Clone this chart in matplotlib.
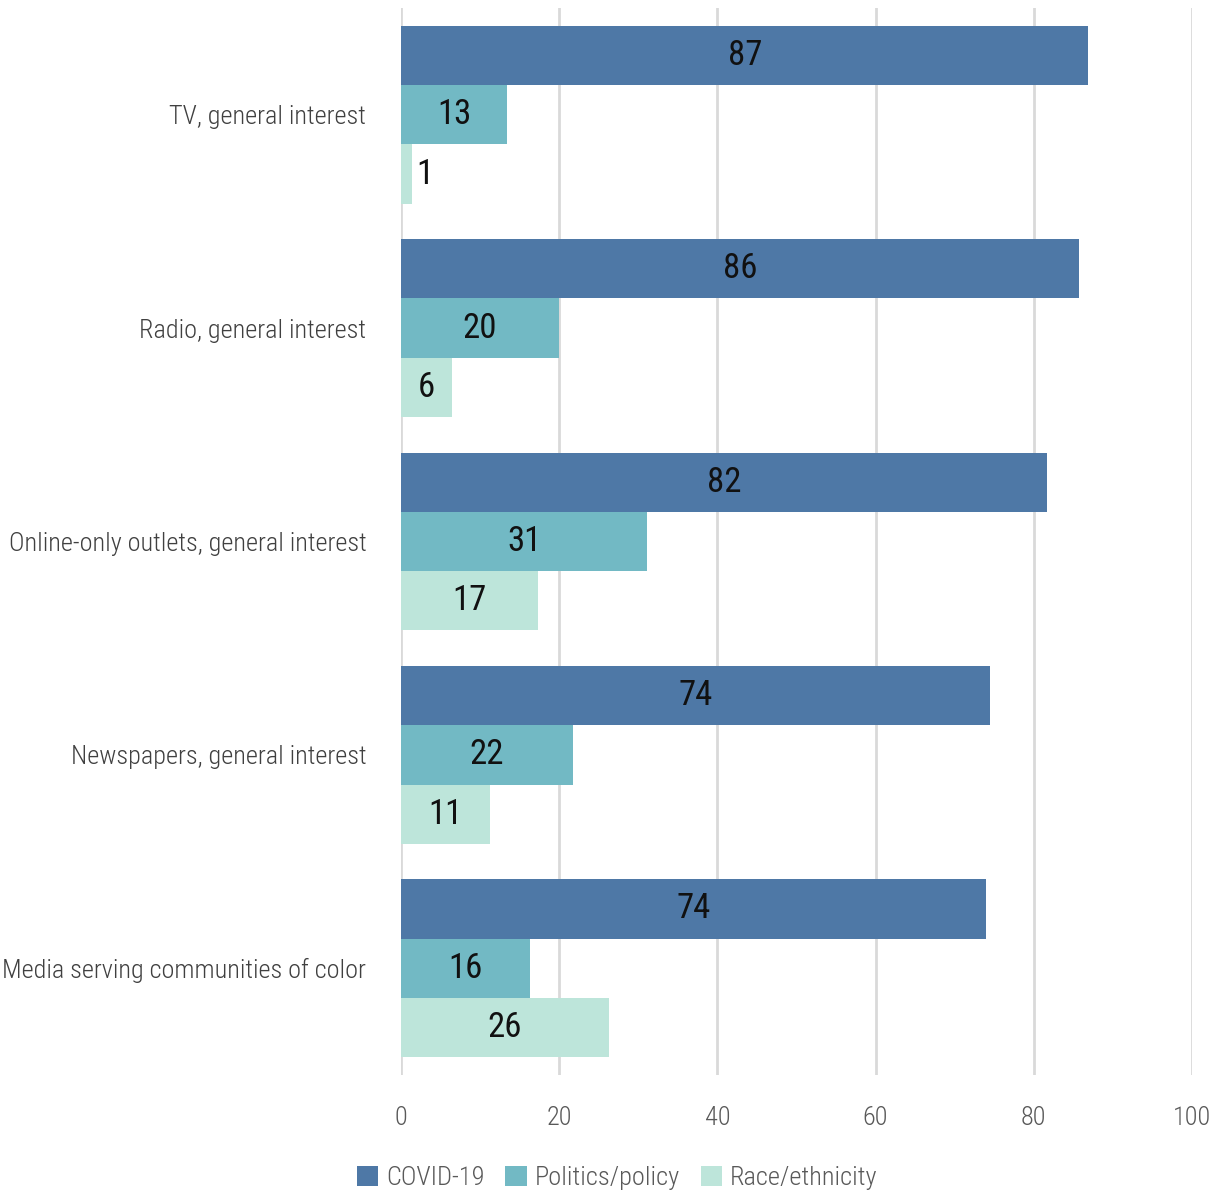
import matplotlib
matplotlib.use("Agg")
import matplotlib.pyplot as plt
from matplotlib import font_manager
from matplotlib.patches import Patch

categories = ["TV, general interest", "Radio, general interest",
              "Online-only outlets, general interest", "Newspapers, general interest",
              "Media serving communities of color"]
series_names = ["COVID-19", "Politics/policy", "Race/ethnicity"]
covid = [86.9, 85.7, 81.7, 74.5, 74.0]
politics = [13.4, 20.0, 31.1, 21.7, 16.3]
race = [1.4, 6.4, 17.3, 11.3, 26.3]
labels_covid = [87, 86, 82, 74, 74]
labels_politics = [13, 20, 31, 22, 16]
labels_race = [1, 6, 17, 11, 26]
xticks = [0, 20, 40, 60, 80, 100]
colors = ["#4E78A6", "#72B9C4", "#BDE5DA"]

avail = {f.name for f in font_manager.fontManager.ttflist}
fam = None
for cand in ["Roboto Condensed", "Liberation Sans Narrow", "DejaVu Sans Condensed", "Open Sans Condensed"]:
    if cand in avail:
        fam = cand
        break
if fam is None:
    fam = "DejaVu Sans"
plt.rcParams["font.family"] = [fam, "DejaVu Sans"]

fig = plt.figure(figsize=(12.14, 11.91), dpi=100)
ax = fig.add_axes([401/1214, 1-1075/1191, 791/1214, 1067/1191])

bh = 0.278
series = [covid, politics, race]
labs = [labels_covid, labels_politics, labels_race]
for i, (vals, lb) in enumerate(zip(series, labs)):
    ys = [c + (i - 1) * bh for c in range(len(categories))]
    ax.barh(ys, vals, height=bh, color=colors[i], zorder=3, label=series_names[i])
    for y, v, l in zip(ys, vals, lb):
        if v < 4:
            ax.text(v + 0.5, y, str(l), ha="left", va="center", fontsize=25, color="#111111", zorder=4)
        else:
            ax.text(v / 2, y, str(l), ha="center", va="center", fontsize=25, color="#111111", zorder=4)

ax.set_ylim(len(categories) - 0.5, -0.5)
ax.set_xlim(0, 100)
ax.set_yticks(range(len(categories)))
ax.set_yticklabels(categories, fontsize=18.9, color="#404040", fontweight="light")
ax.set_xticks(xticks)
ax.set_xticklabels([str(t) for t in xticks], fontsize=19, color="#595959", fontweight="light")
ax.tick_params(axis="y", length=0, pad=25)
ax.tick_params(axis="x", length=0, pad=22)
for s in ax.spines.values():
    s.set_visible(False)
ax.grid(axis="x", color="#D9D9D9", linewidth=2, zorder=0)
ax.set_axisbelow(True)

handles = [Patch(facecolor=c) for c in colors]
leg = fig.legend(handles, series_names, loc="center", bbox_to_anchor=(617/1214, 1-1178/1191),
                 ncol=3, frameon=False, fontsize=19, labelcolor="#595959",
                 handlelength=0.8, handleheight=0.8, handletextpad=0.3, columnspacing=0.8)
for t in leg.get_texts():
    t.set_fontweight("light")

fig.savefig("out.png", dpi=100)
